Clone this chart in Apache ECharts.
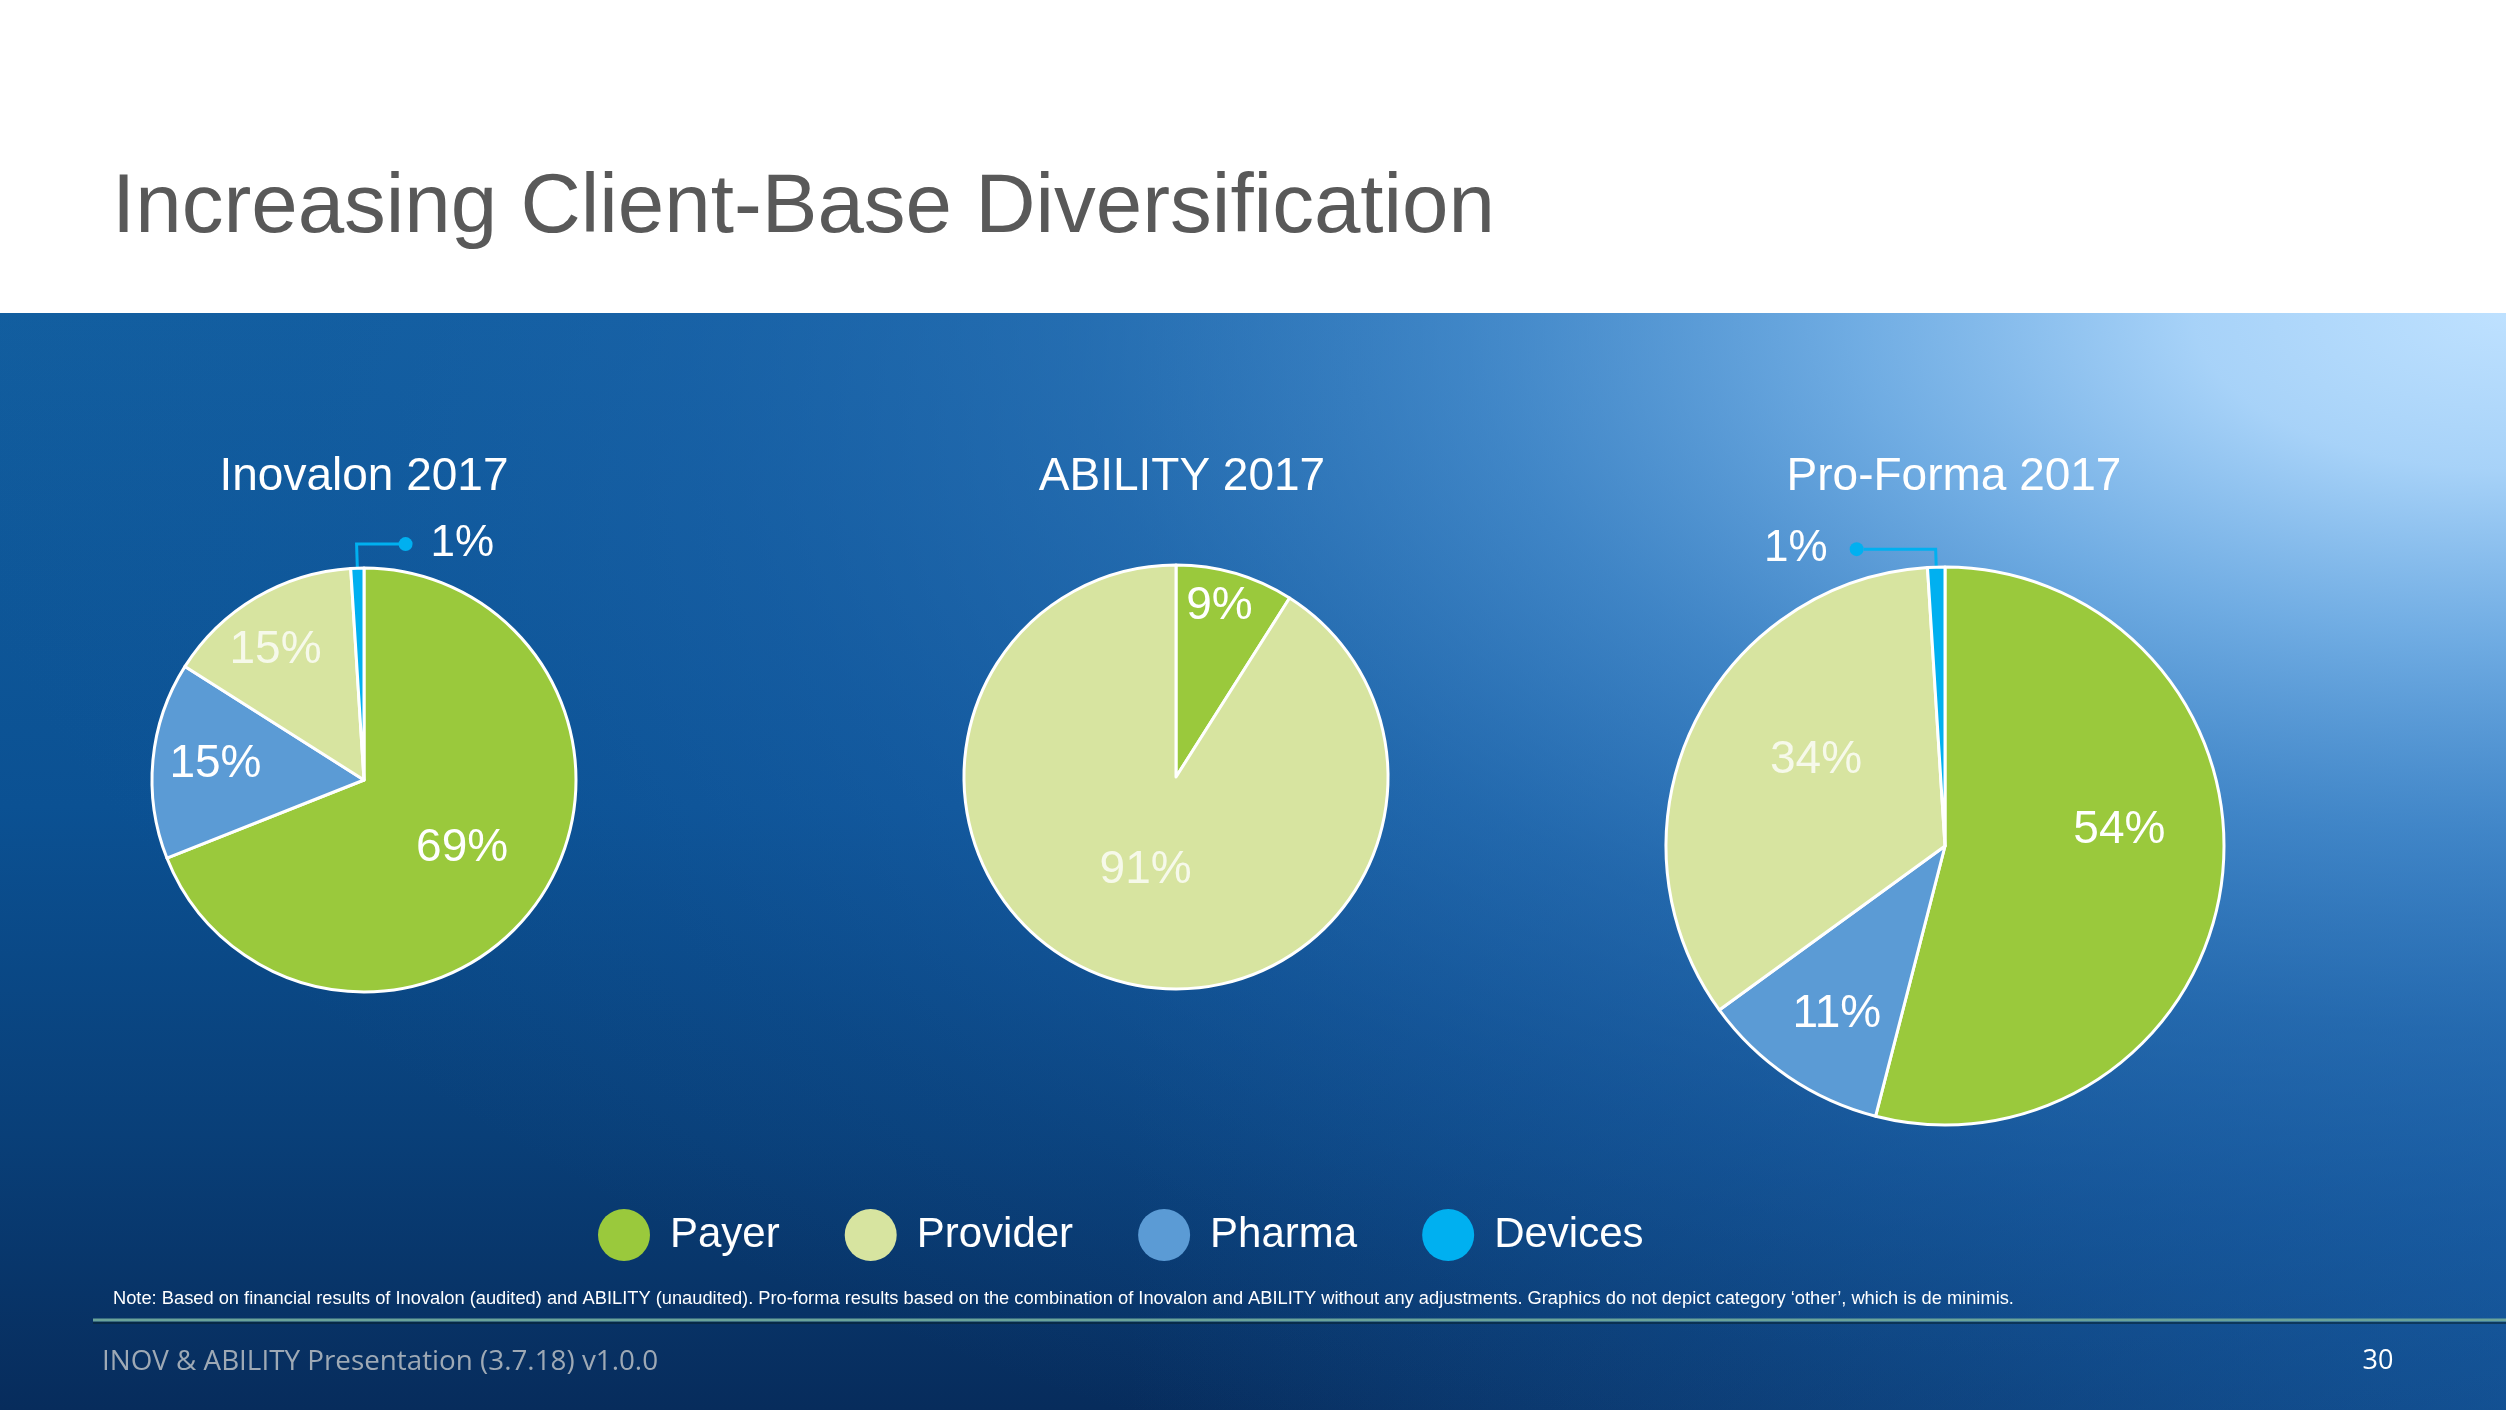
<!DOCTYPE html>
<html><head><meta charset="utf-8">
<script src="https://cdn.jsdelivr.net/npm/echarts@6/dist/echarts.min.js"></script>
<style>html,body{margin:0;padding:0;background:#fff}#c{width:2506px;height:1410px}</style>
</head><body><div id="c"></div>
<script>
// ---- data ----
const categories = ['Payer', 'Pharma', 'Provider', 'Devices'];   // clockwise drawing order
const legendOrder = ['Payer', 'Provider', 'Pharma', 'Devices'];
const pieTitles = ['Inovalon 2017', 'ABILITY 2017', 'Pro-Forma 2017'];
const inovalon2017 = [69, 15, 15, 1];
const ability2017 = [9, 0, 91, 0];
const proForma2017 = [54, 11, 34, 1];
const titleText = 'Increasing Client-Base Diversification';
const noteText = 'Note: Based on financial results of Inovalon (audited) and ABILITY (unaudited). Pro-forma results based on the combination of Inovalon and ABILITY without any adjustments. Graphics do not depict category \u2018other\u2019, which is de minimis.';
const footerText = 'INOV & ABILITY Presentation (3.7.18) v1.0.0';
const pageNumber = '30';

// ---- styles / layout ----
const FONT = '"Liberation Sans", Arial, sans-serif';
const colors = { Payer: '#9ac93c', Provider: '#d7e4a0', Pharma: '#5b9bd5', Devices: '#00b0f0' };
const pieLayout = [
  { center: [364, 780], radius: 212, titleX: 364, nudge: { Payer: [8, 7], Pharma: [-40, -5], Provider: [-33, -36] }, calloutSide: 'right', line: [24, 49] },
  { center: [1176, 777], radius: 212, titleX: 1182, nudge: { Payer: [13, -66], Provider: [0, -11] } },
  { center: [1945, 846], radius: 279, titleX: 1954, nudge: { Payer: [33, -34], Pharma: [-28, 50], Provider: [0, -25] }, calloutSide: 'left', line: [18, 72] }
];
const pieValues = [inovalon2017, ability2017, proForma2017];

function buildSeries(values, i) {
  const L = pieLayout[i];
  const data = [];
  categories.forEach(function (name, k) {
    const v = values[k];
    if (!v) return;
    const item = { name: name, value: v, itemStyle: { color: colors[name] } };
    if (name === 'Devices') {
      item.label = {
        position: 'outside',
        distanceToLabelLine: 0,
        formatter: L.calloutSide === 'right' ? '{dot|}{t|{c}%}' : '{t|{c}%}{dot|}',
        rich: {
          dot: { width: 14, height: 14, borderRadius: 7, backgroundColor: colors.Devices, verticalAlign: 'middle' },
          t: { color: '#ffffff', fontSize: 44, fontFamily: FONT, verticalAlign: 'middle',
               padding: L.calloutSide === 'right' ? [0, 0, 0, 18] : [0, 22, 0, 0] }
        }
      };
      item.labelLine = { show: true, length: L.line[0], length2: L.line[1], lineStyle: { color: colors.Devices, width: 3 } };
    } else if (name === 'Provider') {
      item.label = { color: 'rgba(255,255,255,0.78)' };
    }
    data.push(item);
  });
  return {
    type: 'pie',
    center: L.center,
    radius: L.radius,
    startAngle: 90,
    clockwise: true,
    avoidLabelOverlap: false,
    animation: false,
    emphasis: { disabled: true },
    itemStyle: { borderColor: '#ffffff', borderWidth: 3 },
    label: { show: true, position: 'inside', formatter: '{c}%', color: '#ffffff', fontSize: 46, fontFamily: FONT },
    labelLine: { show: false },
    data: data,
    labelLayout: function (p) {
      const name = data[p.dataIndex].name;
      if (name === 'Devices') {
        if (L.calloutSide === 'right' && p.labelLinePoints) {
          const pts = p.labelLinePoints.map(function (q) { return q.slice(); });
          pts[2][0] = 2 * pts[1][0] - pts[2][0];
          return { x: pts[2][0] - 7, y: pts[2][1], align: 'left', verticalAlign: 'middle', labelLinePoints: pts };
        }
        return {};
      }
      const n = L.nudge[name] || [0, 0];
      return {
        x: p.labelRect.x + p.labelRect.width / 2 + n[0],
        y: p.labelRect.y + p.labelRect.height / 2 + n[1],
        align: 'center', verticalAlign: 'middle'
      };
    }
  };
}

const bgRect = { x: 0, y: 313, width: 2506, height: 1097 };
const graphics = [
  { type: 'rect', z: -10, silent: true, shape: bgRect,
    style: { fill: { type: 'linear', x: 0, y: 0, x2: 0, y2: 1, colorStops: [
      { offset: 0, color: '#125e9f' }, { offset: 0.45, color: '#0b5193' },
      { offset: 0.75, color: '#093f78' }, { offset: 1, color: '#072c5c' } ] } } },
  { type: 'rect', z: -9, silent: true, shape: bgRect,
    style: { fill: { type: 'linear', x: 0, y: 0, x2: 1, y2: 0, colorStops: [
      { offset: 0, color: 'rgba(25,100,175,0)' }, { offset: 0.45, color: 'rgba(25,100,175,0)' },
      { offset: 1, color: 'rgba(25,100,175,0.6)' } ] } } },
  // elliptical highlight from the top-right corner (circle squashed vertically)
  { type: 'rect', z: -8, silent: true, x: 0, y: 313, scaleY: 0.5,
    shape: { x: 0, y: 0, width: 2506, height: 2194 },
    style: { fill: { type: 'radial', x: 2506, y: 0, r: 2600, global: true, colorStops: [
      { offset: 0, color: 'rgba(190,225,255,1)' }, { offset: 0.12, color: 'rgba(172,214,251,0.97)' },
      { offset: 0.25, color: 'rgba(128,186,238,0.85)' }, { offset: 0.4, color: 'rgba(85,153,217,0.68)' },
      { offset: 0.55, color: 'rgba(55,125,195,0.5)' }, { offset: 0.7, color: 'rgba(35,105,180,0.35)' },
      { offset: 0.85, color: 'rgba(25,95,170,0.15)' }, { offset: 1, color: 'rgba(25,95,170,0)' } ] } } },
  { type: 'text', z: 10, x: 112, y: 209, style: { text: titleText, font: '83.5px ' + FONT, fill: '#595959', verticalAlign: 'middle' } },
  { type: 'line', z: 10, shape: { x1: 93, y1: 1320, x2: 2506, y2: 1320 }, style: { stroke: '#6aa39a', lineWidth: 3 } },
  { type: 'line', z: 10, shape: { x1: 93, y1: 1323, x2: 2506, y2: 1323 }, style: { stroke: 'rgba(8,35,45,0.55)', lineWidth: 2 } },
  { type: 'text', z: 10, x: 113, y: 1299, style: { text: noteText, font: '18.3px ' + FONT, fill: '#ffffff', verticalAlign: 'middle' } },
  { type: 'text', z: 10, x: 102, y: 1362, style: { text: footerText, font: '27.8px "Open Sans", sans-serif', fill: '#9ea9b5', verticalAlign: 'middle' } },
  { type: 'text', z: 10, x: 2378, y: 1361, style: { text: pageNumber, font: '27px "Open Sans", sans-serif', fill: '#ffffff', align: 'center', verticalAlign: 'middle' } }
];
pieTitles.forEach(function (t, i) {
  graphics.push({ type: 'text', z: 10, x: pieLayout[i].titleX, y: 477,
    style: { text: t, font: '46px ' + FONT, fill: '#ffffff', align: 'center', verticalAlign: 'middle' } });
});

const chart = echarts.init(document.getElementById('c'), null, { renderer: 'canvas', width: 2506, height: 1410 });
chart.setOption({
  animation: false,
  legend: {
    data: legendOrder,
    left: 593, top: 1204,
    icon: 'circle', itemWidth: 52, itemHeight: 52, itemGap: 65,
    selectedMode: false,
    itemStyle: { borderWidth: 0 },
    textStyle: { color: '#ffffff', fontSize: 42, fontFamily: FONT, padding: [0, 0, 0, 15] }
  },
  graphic: graphics,
  series: pieValues.map(buildSeries)
});
</script></body></html>
